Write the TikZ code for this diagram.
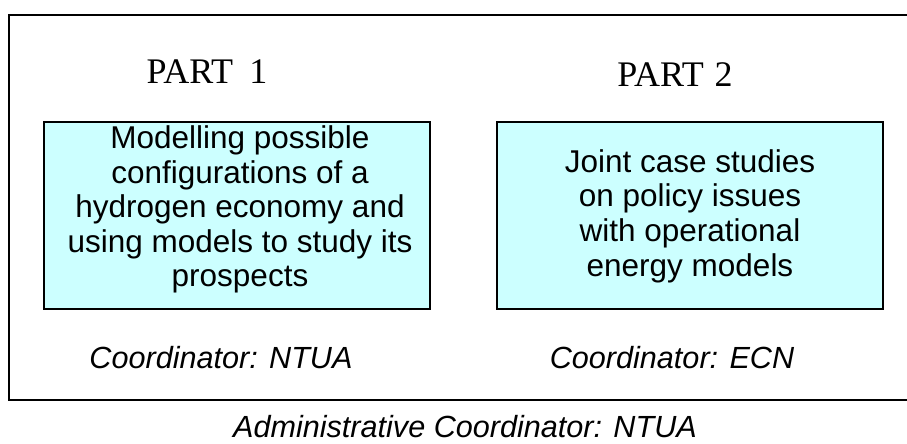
\documentclass[tikz,border=0pt]{standalone}
\usepackage{fontspec}
\setmainfont{Liberation Serif}
\newfontfamily\arialfont{Liberation Sans}
\definecolor{boxcyan}{RGB}{204,255,255}
\begin{document}
\begin{tikzpicture}[x=1pt,y=-1pt,
  partbox/.style={draw=black, line width=1.3pt, fill=boxcyan, minimum width=386pt, minimum height=187pt, inner sep=0pt},
  boxtext/.style={font=\arialfont\fontsize{31.5}{34.6}\selectfont, align=center, inner sep=0pt},
  parttitle/.style={font=\fontsize{36}{40}\selectfont, inner sep=0pt, anchor=base},
  coordtext/.style={font=\arialfont\itshape\fontsize{30.6}{36}\selectfont, inner sep=0pt, anchor=base}]
\useasboundingbox (0,0) rectangle (907,444);
\draw[line width=1.3pt] (907,15) -- (9,15) -- (9,400) -- (907,400);
\node[partbox] (box1) at (237,215.5) {};
\node[partbox] (box2) at (690,215.5) {};
\node[boxtext] (text1) at (240,209.5) {Modelling possible\\configurations of a\\hydrogen economy and\\using models to study its\\prospects};
\node[boxtext] (text2) at (690,216) {Joint case studies\\on policy issues\\with operational\\energy models};
\node[parttitle] (part1) at (207,83) {PART\hspace{0.45em}1};
\node[parttitle] (part2) at (675,86) {PART\hspace{0.3em}2};
\node[coordtext] (coord1) at (221,368) {Coordinator: NTUA};
\node[coordtext] (coord2) at (672,368) {Coordinator: ECN};
\node[coordtext] (admin) at (465,437) {Administrative Coordinator: NTUA};
\end{tikzpicture}
\end{document}
